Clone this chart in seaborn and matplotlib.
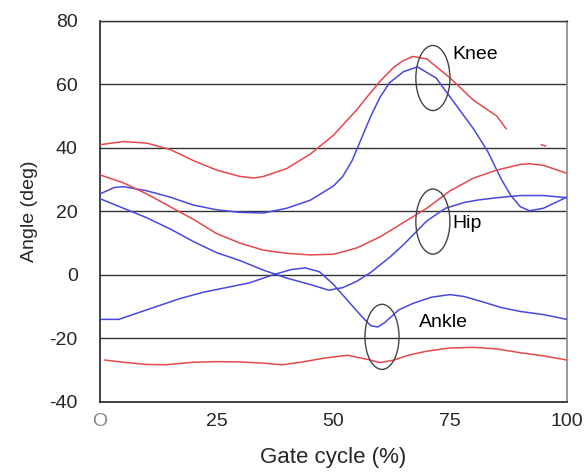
import matplotlib
matplotlib.use("Agg")
import matplotlib.pyplot as plt
import seaborn as sns
from matplotlib.patches import Ellipse

# gait cycle (%) and joint angles (deg)
knee_red_x = [0, 5, 10, 15, 20, 25, 30, 33, 35, 40, 45, 50, 55, 58, 60, 63, 65, 67, 70, 75, 80, 85, 87]
knee_red_y = [41, 42, 41.5, 39.5, 36, 33, 31, 30.5, 31, 33.5, 38, 44, 52, 57.5, 61, 65.5, 67.5, 68.8, 68, 62, 55, 50, 46]
knee_red_tail_x = [94.5, 95.5]
knee_red_tail_y = [41, 40.6]

knee_blue_x = [0, 3, 5, 10, 15, 20, 25, 30, 35, 40, 45, 50, 52, 54, 56, 58, 60, 62, 65, 68, 72, 75, 80, 83, 86, 88, 90, 92, 95, 100]
knee_blue_y = [25.5, 27.5, 27.8, 26.5, 24.5, 22, 20.5, 19.7, 19.5, 21, 23.5, 28, 31, 36, 43, 50, 56, 60.5, 64, 65.5, 62, 56, 46, 39, 30, 25, 21.5, 20.2, 21, 24.5]

hip_red_x = [0, 5, 10, 15, 20, 25, 30, 35, 40, 45, 50, 55, 60, 65, 70, 75, 80, 85, 90, 92, 95, 100]
hip_red_y = [31.5, 29, 25.5, 21.5, 17.5, 13, 10, 7.8, 6.8, 6.3, 6.5, 8.5, 12, 16.5, 21, 26.5, 30.5, 33, 34.8, 35, 34.5, 32]

hip_blue_x = [0, 5, 10, 15, 20, 25, 30, 35, 38, 40, 45, 49, 52, 55, 58, 62, 65, 68, 70, 74, 78, 81, 85, 90, 95, 100]
hip_blue_y = [24, 21, 18, 14.5, 10.5, 7, 4.5, 1.5, 0, -1, -3, -4.8, -4, -2, 0.8, 5.5, 9.5, 14, 17, 21, 22.8, 23.6, 24.3, 25, 25, 24.3]

ankle_blue_x = [0, 4, 8, 12, 17, 22, 27, 32, 37, 41, 44, 47, 50, 53, 56, 58, 59.5, 61, 64, 67, 71, 75, 78, 82, 86, 90, 95, 100]
ankle_blue_y = [-14, -14, -12, -10, -7.5, -5.5, -4, -2.5, 0, 1.7, 2.2, 1, -3, -8, -13, -16, -16.4, -15, -11, -9, -7, -6.2, -6.8, -8.5, -10.3, -11.5, -12.5, -14]

ankle_red_x = [1, 5, 10, 14, 20, 25, 30, 35, 39, 43, 48, 53, 57, 60, 63, 66, 70, 75, 80, 85, 90, 95, 100]
ankle_red_y = [-26.8, -27.5, -28.2, -28.3, -27.5, -27.3, -27.4, -27.8, -28.3, -27.5, -26.2, -25.3, -26.5, -27.6, -26.8, -25.3, -24, -23, -22.8, -23.3, -24.5, -25.5, -26.8]

x_ticks = [0, 25, 50, 75, 100]
x_tick_labels = ["O", "25", "50", "75", "100"]
y_ticks = [-40, -20, 0, 20, 40, 60, 80]

# joint label, ellipse centre (x, y), label position (x, y)
joints = ["Knee", "Hip", "Ankle"]
ellipse_centres = [(71.3, 62), (71.3, 16.8), (60.4, -19.5)]
label_positions = [(75.5, 69.3), (75.5, 16.3), (68.3, -15)]

RED = "#e5484d"
BLUE = "#4848e0"

sns.set_style("white")
plt.rcParams["font.family"] = ["Liberation Sans", "DejaVu Sans"]
plt.rcParams["axes.unicode_minus"] = False

fig = plt.figure(figsize=(5.85, 4.74), dpi=100)
ax = fig.add_axes([0.171, 0.152, 0.798, 0.804])

for xs, ys, c in [
    (knee_red_x, knee_red_y, RED),
    (knee_red_tail_x, knee_red_tail_y, RED),
    (knee_blue_x, knee_blue_y, BLUE),
    (hip_red_x, hip_red_y, RED),
    (hip_blue_x, hip_blue_y, BLUE),
    (ankle_red_x, ankle_red_y, RED),
    (ankle_blue_x, ankle_blue_y, BLUE),
]:
    sns.lineplot(x=xs, y=ys, color=c, linewidth=1.1, ax=ax, zorder=3)

for y in y_ticks[1:]:
    ax.axhline(y, color="#333333", linewidth=1.0, zorder=1)

for name, (cx, cy), (lx, ly) in zip(joints, ellipse_centres, label_positions):
    ax.add_patch(Ellipse((cx, cy), width=7.3, height=20.5, fill=False,
                         edgecolor="#444444", linewidth=1.0, zorder=4))
    ax.text(lx, ly, name, fontsize=14, va="center", ha="left", color="black")

ax.set_xlim(0, 100)
ax.set_ylim(-40, 80)
ax.set_xticks(x_ticks)
ax.set_xticklabels(x_tick_labels, fontsize=14)
ax.get_xticklabels()[0].set_color("#888888")
ax.set_yticks(y_ticks)
ax.tick_params(axis="y", length=0, pad=16, labelsize=14)
ax.tick_params(axis="x", direction="in", length=9, width=1, color="#333333", pad=8)

ax.set_xlabel("Gate cycle (%)", fontsize=16, labelpad=12)
ax.set_ylabel("Angle (deg)", fontsize=14, labelpad=8)

for side in ["left", "bottom"]:
    ax.spines[side].set_color("#222222")
    ax.spines[side].set_linewidth(1.2)
ax.spines["right"].set_color("#888888")
ax.spines["right"].set_linewidth(1.2)
ax.spines["top"].set_color("#333333")
ax.spines["top"].set_linewidth(1.0)

fig.savefig("out.png", dpi=100)
